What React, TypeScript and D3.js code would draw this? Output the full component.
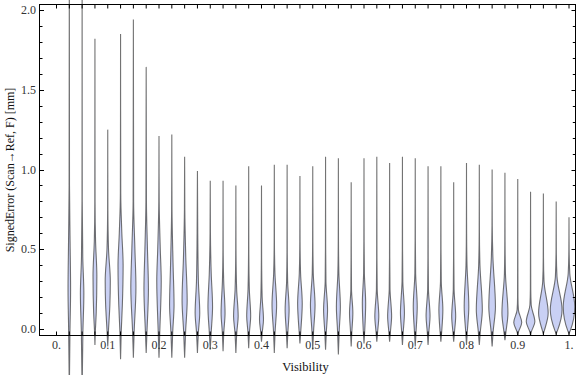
import * as d3 from 'd3'

// visibility bins (x categories)
const VISIBILITY = [
  0.025, 0.05, 0.075, 0.1, 0.125, 0.15, 0.175, 0.2, 0.225, 0.25,
  0.275, 0.3, 0.325, 0.35, 0.375, 0.4, 0.425, 0.45, 0.475, 0.5,
  0.525, 0.55, 0.575, 0.6, 0.625, 0.65, 0.675, 0.7, 0.725, 0.75,
  0.775, 0.8, 0.825, 0.85, 0.875, 0.9, 0.925, 0.95, 0.975, 1.0,
]

// lower / upper ends of each distribution (mm)
const ERR_MIN = [
  -0.4, -0.4, -0.1, -0.11, -0.19, -0.18, -0.15, -0.18, -0.18, -0.18,
  -0.15, -0.13, -0.14, -0.15, -0.12, -0.08, -0.15, -0.12, -0.09, -0.13,
  -0.13, -0.16, -0.11, -0.09, -0.08, -0.08, -0.1, -0.11, -0.1, -0.08,
  -0.08, -0.1, -0.1, -0.11, -0.07, -0.04, -0.04, -0.03, -0.03, -0.03,
]
const ERR_MAX = [
  2.4, 2.4, 1.82, 1.25, 1.85, 1.94, 1.64, 1.21, 1.22, 1.08,
  0.99, 0.93, 0.93, 0.9, 1.02, 0.9, 1.03, 1.03, 0.96, 1.02,
  1.08, 1.07, 0.92, 1.07, 1.08, 1.04, 1.08, 1.07, 1.02, 1.02,
  0.92, 1.04, 1.03, 1.0, 0.98, 0.94, 0.86, 0.85, 0.8, 0.7,
]

// density profile per bin: [signed error (mm), relative density]
const DENSITY: [number, number][][] = [
  [[-0.02, 0.1], [0.25, 0.2], [0.55, 0.12], [0.9, 0.03]],
  [[-0.02, 0.12], [0.22, 0.27], [0.45, 0.1], [0.8, 0.02]],
  [[-0.03, 0.05], [0.1, 0.2], [0.33, 0.3], [0.55, 0.1], [0.8, 0.02]],
  [[-0.02, 0.1], [0.15, 0.33], [0.3, 0.4], [0.5, 0.12], [0.75, 0.02]],
  [[-0.02, 0.1], [0.15, 0.28], [0.4, 0.4], [0.6, 0.2], [0.85, 0.03]],
  [[-0.02, 0.12], [0.26, 0.4], [0.5, 0.24], [0.8, 0.04]],
  [[-0.02, 0.12], [0.25, 0.35], [0.5, 0.2], [0.8, 0.04]],
  [[-0.02, 0.12], [0.3, 0.35], [0.5, 0.2], [0.8, 0.03]],
  [[-0.02, 0.14], [0.15, 0.35], [0.4, 0.2], [0.75, 0.03]],
  [[-0.02, 0.15], [0.18, 0.4], [0.45, 0.18], [0.75, 0.03]],
  [[-0.02, 0.15], [0.1, 0.36], [0.3, 0.15], [0.6, 0.05]],
  [[-0.02, 0.15], [0.14, 0.36], [0.35, 0.15], [0.6, 0.03]],
  [[-0.02, 0.12], [0.1, 0.31], [0.3, 0.1], [0.5, 0.02]],
  [[-0.02, 0.15], [0.08, 0.36], [0.25, 0.12], [0.5, 0.02]],
  [[-0.02, 0.12], [0.08, 0.31], [0.25, 0.1], [0.5, 0.02]],
  [[-0.02, 0.12], [0.06, 0.31], [0.2, 0.1], [0.45, 0.02]],
  [[-0.02, 0.12], [0.15, 0.36], [0.35, 0.1], [0.55, 0.02]],
  [[-0.02, 0.12], [0.12, 0.31], [0.3, 0.08], [0.5, 0.02]],
  [[-0.02, 0.12], [0.16, 0.36], [0.35, 0.1], [0.55, 0.02]],
  [[-0.02, 0.12], [0.15, 0.36], [0.35, 0.08], [0.55, 0.02]],
  [[-0.02, 0.12], [0.12, 0.31], [0.3, 0.06], [0.5, 0.02]],
  [[-0.02, 0.12], [0.14, 0.31], [0.35, 0.08], [0.55, 0.02]],
  [[-0.02, 0.1], [0.1, 0.26], [0.25, 0.05], [0.45, 0.02]],
  [[-0.02, 0.1], [0.16, 0.26], [0.35, 0.06], [0.55, 0.02]],
  [[-0.02, 0.12], [0.08, 0.31], [0.25, 0.06], [0.45, 0.02]],
  [[-0.02, 0.12], [0.08, 0.31], [0.25, 0.06], [0.45, 0.02]],
  [[-0.02, 0.12], [0.1, 0.31], [0.3, 0.06], [0.5, 0.02]],
  [[-0.02, 0.12], [0.14, 0.31], [0.35, 0.06], [0.55, 0.02]],
  [[-0.02, 0.12], [0.08, 0.31], [0.25, 0.06], [0.45, 0.02]],
  [[-0.02, 0.12], [0.12, 0.31], [0.3, 0.06], [0.5, 0.02]],
  [[-0.02, 0.12], [0.08, 0.31], [0.25, 0.06], [0.45, 0.02]],
  [[-0.02, 0.12], [0.14, 0.36], [0.4, 0.08], [0.6, 0.02]],
  [[-0.02, 0.15], [0.12, 0.47], [0.4, 0.1], [0.6, 0.02]],
  [[-0.02, 0.15], [0.14, 0.52], [0.45, 0.12], [0.65, 0.02]],
  [[-0.02, 0.15], [0.1, 0.47], [0.35, 0.08], [0.55, 0.02]],
  [[-0.02, 0.1], [0.04, 0.62], [0.12, 0.1], [0.2, 0.03]],
  [[-0.02, 0.1], [0.045, 0.67], [0.15, 0.1], [0.25, 0.03]],
  [[-0.01, 0.15], [0.1, 0.75], [0.3, 0.1], [0.45, 0.02]],
  [[-0.01, 0.2], [0.12, 0.92], [0.33, 0.12], [0.5, 0.02]],
  [[-0.01, 0.2], [0.14, 0.9], [0.35, 0.12], [0.5, 0.02]],
]

const X_LABELS = ['0.', '0.1', '0.2', '0.3', '0.4', '0.5', '0.6', '0.7', '0.8', '0.9', '1.']
const Y_LABELS = ['0.0', '0.5', '1.0', '1.5', '2.0']

const W = 576
const H = 375
const FRAME = { left: 39.5, right: 575.5, top: 4.5, bottom: 335.5 }
const FONT = '"Liberation Serif", "DejaVu Serif", serif'

export default function App() {
  const x = d3.scaleLinear().domain([0, 1]).range([56.5, 569])
  const y = d3.scaleLinear().domain([0, 2]).range([329, 10])
  const halfW = d3.scaleLinear().domain([0, 1]).range([0, (x(0.025) - x(0)) / 2])

  const violins = VISIBILITY.map((v, i) => {
    const lo = ERR_MIN[i]
    const hi = ERR_MAX[i]
    const pts: [number, number][] = [
      [lo, 0],
      ...DENSITY[i].filter(p => p[0] > lo && p[0] < hi),
      [hi, 0],
    ]
    const cx = x(v)
    const area = d3.area<[number, number]>()
      .y(d => y(d[0]))
      .x0(d => cx - halfW(d[1]))
      .x1(d => cx + halfW(d[1]))
      .curve(d3.curveMonotoneY)
    return area(pts) ?? ''
  })

  const xTicks = d3.range(0, 1.0001, 0.025)
  const yTicks = d3.range(0, 2.0001, 0.1)

  return (
    <svg width={W} height={H} style={{ position: 'absolute', left: 0, top: 0, background: '#fff' }}>
      {violins.map((d, i) => (
        <path key={i} d={d} fill="#c9d0f4" stroke="#444" strokeOpacity={0.75} strokeWidth={1.1} />
      ))}

      {/* frame */}
      <rect x={FRAME.left} y={FRAME.top} width={FRAME.right - FRAME.left} height={FRAME.bottom - FRAME.top}
        fill="none" stroke="#000" strokeWidth={1} />

      {xTicks.map((t, i) => (
        <g key={'xt' + i} stroke="#000" strokeWidth={1}>
          <line x1={x(t)} x2={x(t)} y1={FRAME.top} y2={FRAME.top + 4} />
          <line x1={x(t)} x2={x(t)} y1={FRAME.bottom} y2={FRAME.bottom - 4} />
        </g>
      ))}
      {yTicks.map((t, i) => {
        const major = i % 5 === 0
        const yy = Math.round(y(t)) + 0.5
        return (
          <g key={'yt' + i} stroke="#000" strokeWidth={1}>
            <line x1={FRAME.left} x2={FRAME.left + (major ? 4.5 : 3)} y1={yy} y2={yy} />
            <line x1={FRAME.right} x2={FRAME.right - (major ? 4 : 2.7)} y1={yy} y2={yy} />
          </g>
        )
      })}

      {X_LABELS.map((s, i) => (
        <text key={'xl' + i} x={x(i / 10)} y={349} textAnchor="middle" fontFamily={FONT} fontSize={12} fill="#333">{s}</text>
      ))}
      {Y_LABELS.map((s, i) => (
        <text key={'yl' + i} x={36} y={y(i * 0.5) + 4} textAnchor="end" fontFamily={FONT} fontSize={12} fill="#333">{s}</text>
      ))}

      <text x={(FRAME.left + FRAME.right) / 2 - 2} y={371} textAnchor="middle" fontFamily={FONT} fontSize={12.5} fill="#111">Visibility</text>
      <text transform={`translate(14, 170) rotate(-90)`} textAnchor="middle" fontFamily={FONT} fontSize={12} fill="#111">
        SignedError (Scan→Ref, F) [mm]
      </text>
    </svg>
  )
}
